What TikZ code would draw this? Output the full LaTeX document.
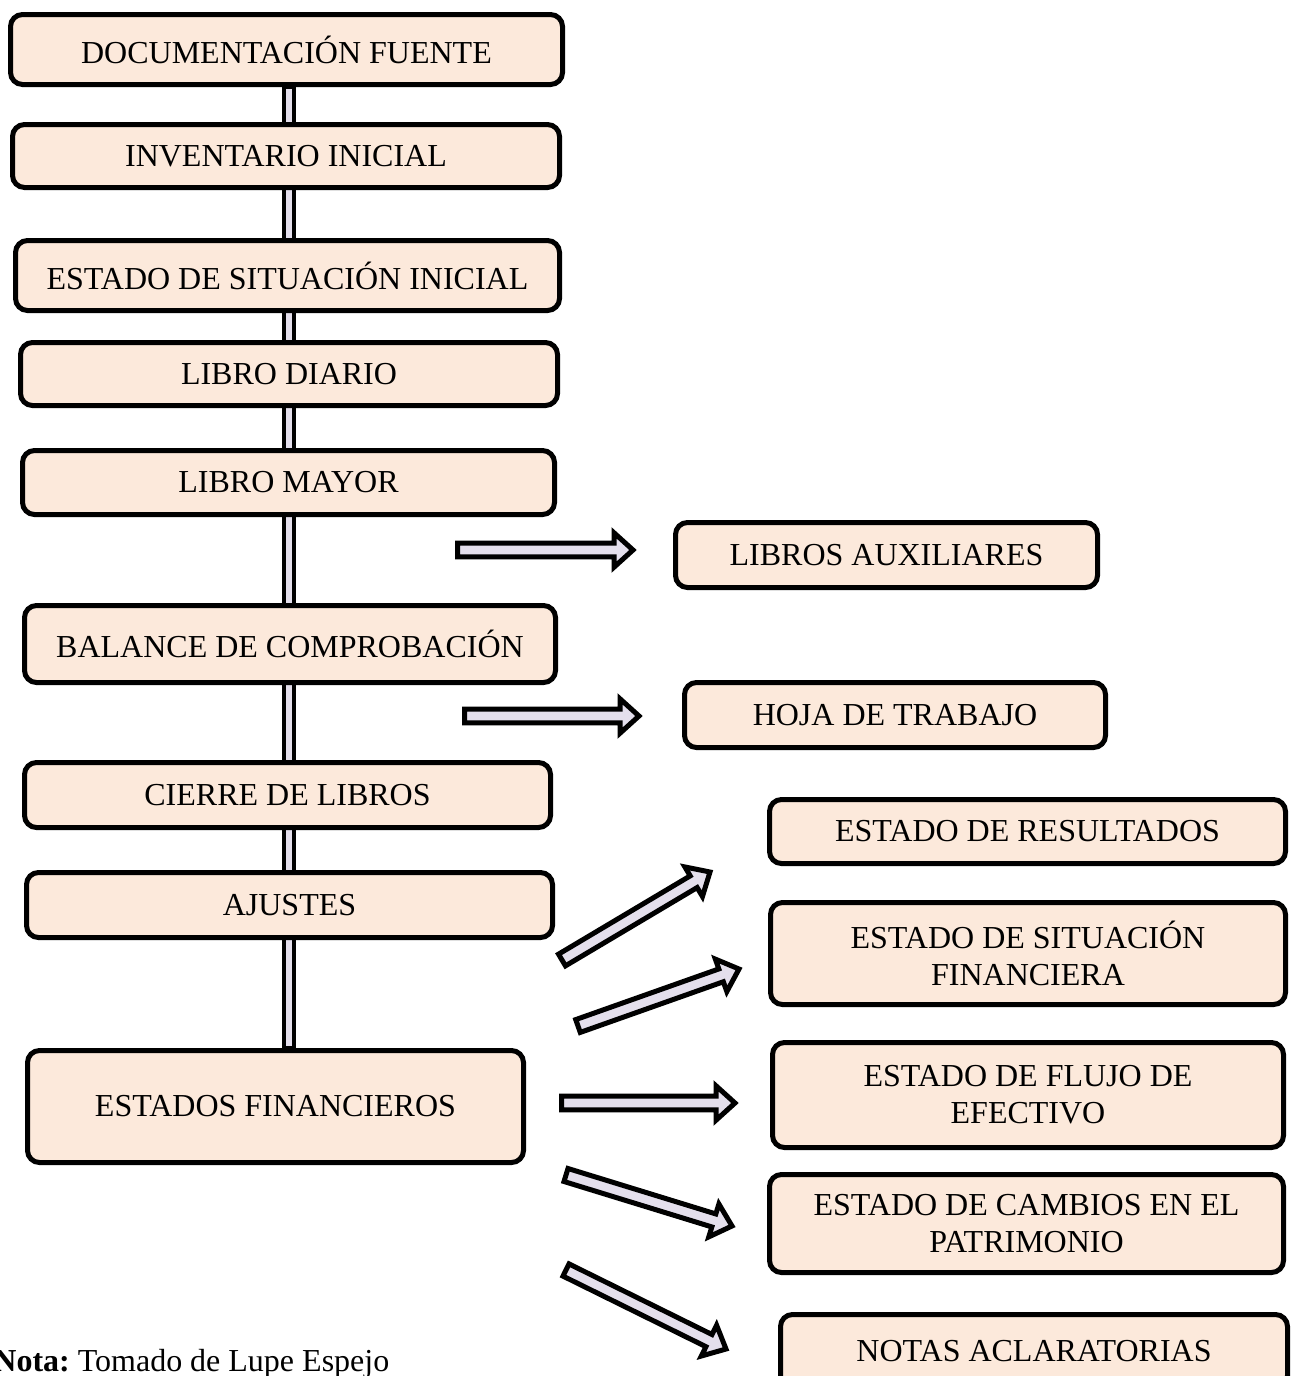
\documentclass[tikz,border=0pt]{standalone}
\usepackage{fontspec}
\setmainfont{Liberation Serif}
\usetikzlibrary{calc,backgrounds}
\definecolor{peach}{HTML}{FCE9DB}
\definecolor{lav}{HTML}{E4DFEC}
\tikzset{
  box/.style={draw=black, line width=2.5pt, rounded corners=6pt, fill=peach,
    align=center, inner sep=0pt, font=\fontsize{16}{18.5}\selectfont},
  vbar/.style={draw=black, line width=2pt, fill=lav},
  barrowstyle/.style={draw=black, line width=2.5pt, fill=lav, line join=miter, miter limit=10}
}
\newcommand{\bx}[6]{\node[box, minimum width={(#4-5)*0.5pt}, minimum height={(#5-5)*0.5pt}] (#1) at (#2,#3) {#6};}
\newcommand{\blockarr}[2]{%
  \coordinate (#2b) at ($(#2)!9.5pt!(#1)$);
  \draw[barrowstyle] ($(#1)!3.4pt!90:(#2)$) -- ($(#2b)!3.4pt!-90:(#1)$) -- ($(#2b)!8.6pt!-90:(#1)$) -- (#2)
    -- ($(#2b)!8.6pt!90:(#1)$) -- ($(#2b)!3.4pt!90:(#1)$) -- ($(#1)!3.4pt!-90:(#2)$) -- cycle;}
\begin{document}
\begin{tikzpicture}[x=0.5pt,y=-0.5pt]
\useasboundingbox (0,0) rectangle (1299,1376);
% left column
\bx{doc}{286.5}{49.5}{557}{75}{DOCUMENTACIÓN FUENTE}
\bx{inv}{286}{156}{552}{68}{INVENTARIO INICIAL}
\bx{esi}{287.5}{275.5}{549}{75}{ESTADO DE SITUACIÓN INICIAL}
\bx{ld}{289}{374}{542}{68}{LIBRO DIARIO}
\bx{lm}{288.5}{482.5}{537}{69}{LIBRO MAYOR}
\bx{bc}{290}{644}{536}{82}{BALANCE DE COMPROBACIÓN}
\bx{cl}{287.5}{795}{531}{70}{CIERRE DE LIBROS}
\bx{aj}{289.5}{905}{531}{70}{AJUSTES}
\bx{ef}{275.5}{1106.5}{501}{117}{ESTADOS FINANCIEROS}
% right column
\bx{la}{886.5}{555}{427}{70}{LIBROS AUXILIARES}
\bx{ht}{895}{715}{426}{70}{HOJA DE TRABAJO}
\bx{er}{1027.5}{831.5}{521}{69}{ESTADO DE RESULTADOS}
\bx{esf}{1028}{953.5}{520}{107}{ESTADO DE SITUACIÓN\\FINANCIERA}
\bx{efe}{1028}{1095}{516}{110}{ESTADO DE FLUJO DE\\EFECTIVO}
\bx{ecp}{1026.5}{1223.5}{519}{103}{ESTADO DE CAMBIOS EN EL\\PATRIMONIO}
\bx{na}{1034}{1351}{512}{78}{NOTAS ACLARATORIAS}
% vertical bar (behind boxes)
\coordinate (barx) at (289,0);
\coordinate (bt) at (doc.south -| barx);
\coordinate (bb) at (ef.north -| barx);
\begin{scope}[on background layer]
\draw[vbar] ($(bt)+(-5,0)$) rectangle ($(bb)+(5,0)$);
\end{scope}
% block arrows
\coordinate (t1) at (457.5,550); \coordinate (p1) at (633,550);
\coordinate (t2) at (464.5,716); \coordinate (p2) at (639,716);
\coordinate (t3) at (562,960);   \coordinate (p3) at (710,872);
\coordinate (t4) at (578,1026);  \coordinate (p4) at (739,969);
\coordinate (t5) at (561.5,1103);\coordinate (p5) at (735,1103);
\coordinate (t6) at (566,1175);  \coordinate (p6) at (732,1226);
\coordinate (t7) at (566,1270);  \coordinate (p7) at (726,1349);
\blockarr{t1}{p1}
\blockarr{t2}{p2}
\blockarr{t3}{p3}
\blockarr{t4}{p4}
\blockarr{t5}{p5}
\blockarr{t6}{p6}
\blockarr{t7}{p7}
% note
\node[anchor=base west, inner sep=0pt, font=\fontsize{16}{18.5}\selectfont] (nota) at (-7,1371) {\textbf{Nota:}~Tomado de Lupe Espejo};
\end{tikzpicture}
\end{document}
